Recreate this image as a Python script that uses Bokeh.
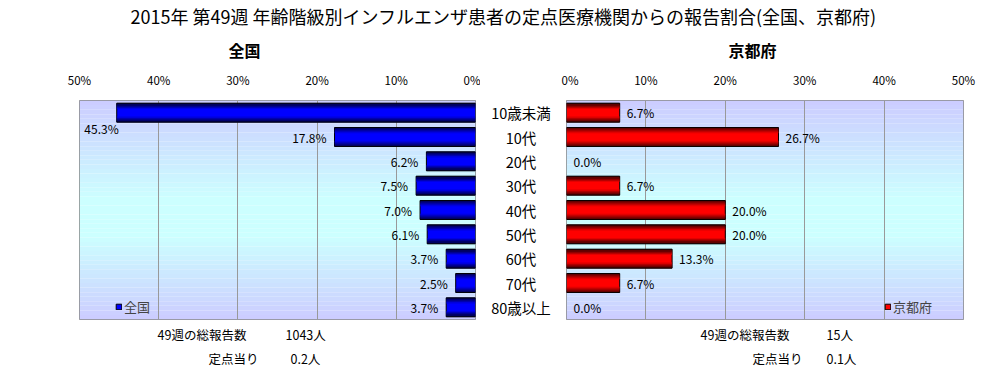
from bokeh.plotting import figure
from bokeh.layouts import column, row
from bokeh.models import (Range1d, FactorRange, FixedTicker, PrintfTickFormatter,
                          BoxAnnotation, Legend, LegendItem, ColumnDataSource)
from bokeh.transform import dodge
from bokeh.core.properties import value
from bokeh.embed import file_html
from bokeh.resources import INLINE

# ---------------- data ----------------
TITLE = "2015年 第49週 年齢階級別インフルエンザ患者の定点医療機関からの報告割合(全国、京都府)"
categories = ["10歳未満", "10代", "20代", "30代", "40代", "50代", "60代", "70代", "80歳以上"]
national = [45.3, 17.8, 6.2, 7.5, 7.0, 6.1, 3.7, 2.5, 3.7]
kyoto = [6.7, 26.7, 0.0, 6.7, 20.0, 20.0, 13.3, 6.7, 0.0]
panel_names = ["全国", "京都府"]
tick_values = [0, 10, 20, 30, 40, 50]
week = 49
total_reports = [1043, 15]
per_site = [0.2, 0.1]

JP = "Noto Sans CJK JP"
LAV = (0xCC, 0xCC, 0xFF)
CYA = (0xCC, 0xFF, 0xFF)
BAR_H = 0.78


def hexc(c):
    return "#%02x%02x%02x" % tuple(int(round(v)) for v in c)


def lerp(a, b, t):
    return tuple(a[i] + (b[i] - a[i]) * t for i in range(3))


def bg_color(t):
    if t < 0.45:
        return hexc(lerp(LAV, CYA, t / 0.45))
    if t < 0.62:
        return hexc(CYA)
    return hexc(lerp(CYA, LAV, (t - 0.62) / 0.38))


def panel(vals, name, reverse, dark, bright, width, mbl, mbr, legend_x):
    xr = Range1d(50, 0) if reverse else Range1d(0, 50)
    p = figure(width=width, height=253, x_range=xr,
               y_range=FactorRange(factors=categories[::-1]),
               x_axis_location="above", y_axis_location=None,
               toolbar_location=None, output_backend="svg",
               min_border_left=mbl, min_border_right=mbr,
               min_border_top=27, min_border_bottom=2)
    p.outline_line_color = "#888888"
    p.background_fill_color = "white"
    p.border_fill_color = "white"
    ax = p.xaxis[0]
    ax.ticker = FixedTicker(ticks=tick_values)
    ax.formatter = PrintfTickFormatter(format="%d%%")
    ax.axis_line_color = None
    ax.major_tick_line_color = None
    ax.minor_tick_line_color = None
    ax.major_tick_out = 0
    ax.major_tick_in = 0
    ax.major_label_standoff = 13
    ax.major_label_text_font = JP
    ax.major_label_text_font_size = "11.5px"
    ax.major_label_text_color = "black"
    p.xgrid.ticker = FixedTicker(ticks=tick_values)
    p.xgrid.grid_line_color = "#999999"
    p.ygrid.grid_line_color = None

    # gradient background
    n = len(categories)
    N = 48
    for k in range(N):
        top = n - k * n / N
        bot = n - (k + 1) * n / N
        p.add_layout(BoxAnnotation(bottom=bot, top=top, fill_color=bg_color((k + 0.5) / N),
                                   fill_alpha=1.0, line_color=None, level="image"))

    la = [1.0 if v > 0 else 0.0 for v in vals]
    src = ColumnDataSource(dict(cat=categories, val=vals, la=la))
    base = p.hbar(y="cat", left=0, right="val", height=BAR_H, source=src,
                  fill_color=hexc(bright), line_color="black", line_alpha="la", line_width=1)
    # shaded edges (cylinder look)
    m = 6
    s = BAR_H * 0.05
    for k in range(m):
        c = hexc(lerp(dark, bright, (k / m) ** 0.9))
        for sign in (1, -1):
            off = sign * (BAR_H / 2 - (k + 0.5) * s)
            p.hbar(y=dodge("cat", off, range=p.y_range), left=0, right="val", height=s,
                   source=src, fill_color=c, line_color=None)

    # data labels
    labels = ["%.1f%%" % v for v in vals]
    if reverse:
        xo = [2 if v > 40 else -8 for v in vals]
        yo = [16 if v > 40 else 0 for v in vals]
        align = "right"
    else:
        xo = [7 for v in vals]
        yo = [0 for v in vals]
        align = "left"
    lsrc = ColumnDataSource(dict(cat=categories, val=vals, lab=labels, xo=xo, yo=yo))
    p.text(x="val", y="cat", text="lab", x_offset="xo", y_offset="yo", source=lsrc,
           text_align=align, text_baseline="middle", text_font=value(JP),
           text_font_size="12px", text_color="black")

    leg = Legend(items=[LegendItem(label=name, renderers=[base], index=0)], location=(legend_x, 3),
                 padding=0, margin=0, spacing=0, glyph_width=7, glyph_height=7,
                 label_standoff=2, label_text_font=JP, label_text_font_size="13px",
                 background_fill_alpha=0, border_line_color=None)
    p.add_layout(leg)
    return p


p1 = panel(national, panel_names[0], True, (0, 0, 0x10), (0, 0, 0xFF), 480, 79, 5, 36)
p2 = panel(kyoto, panel_names[1], False, (0x10, 0, 0), (0xFF, 0, 0), 429, 5, 27, 318)

# middle category labels
pm = figure(width=81, height=253, x_range=Range1d(-1, 1),
            y_range=FactorRange(factors=categories[::-1]),
            x_axis_location=None, y_axis_location=None, toolbar_location=None,
            output_backend="svg", min_border_left=0, min_border_right=0,
            min_border_top=27, min_border_bottom=2)
pm.outline_line_color = None
pm.grid.grid_line_color = None
pm.text(x=[0] * len(categories), y=categories, text=categories, text_align="center",
        text_baseline="middle", text_font=value(JP), text_font_size="14.5px", text_color="black")

# title figure
tf = figure(width=1006, height=68, x_range=Range1d(0, 1006), y_range=Range1d(68, 0),
            x_axis_location=None, y_axis_location=None, toolbar_location=None,
            output_backend="svg", min_border=0)
tf.outline_line_color = None
tf.grid.grid_line_color = None
tf.text(x=[503], y=[15], text=[TITLE], text_align="center", text_baseline="middle",
        text_font=value(JP), text_font_size="18px", text_color="black")
tf.text(x=[244, 752], y=[49, 49], text=panel_names, text_align="center", text_baseline="middle",
        text_font=value(JP), text_font_size="16px", text_font_style="bold", text_color="black")

# bottom figure
bf = figure(width=1006, height=52, x_range=Range1d(0, 1006), y_range=Range1d(52, 0),
            x_axis_location=None, y_axis_location=None, toolbar_location=None,
            output_backend="svg", min_border=0)
bf.outline_line_color = None
bf.grid.grid_line_color = None
lab1 = "%d週の総報告数" % week
lab2 = "定点当り"
bsrc = ColumnDataSource(dict(
    x=[157, 285, 208, 290, 700, 826, 752, 826],
    y=[13, 13, 37, 37, 13, 13, 37, 37],
    t=[lab1, "%d人" % total_reports[0], lab2, "%.1f人" % per_site[0],
       lab1, "%d人" % total_reports[1], lab2, "%.1f人" % per_site[1]]))
bf.text(x="x", y="y", text="t", source=bsrc, text_align="left", text_baseline="middle",
        text_font=value(JP), text_font_size="12.5px", text_color="black")

layout = column(tf, row(p1, pm, p2), bf)
open("out.html", "w").write(file_html(layout, INLINE))
